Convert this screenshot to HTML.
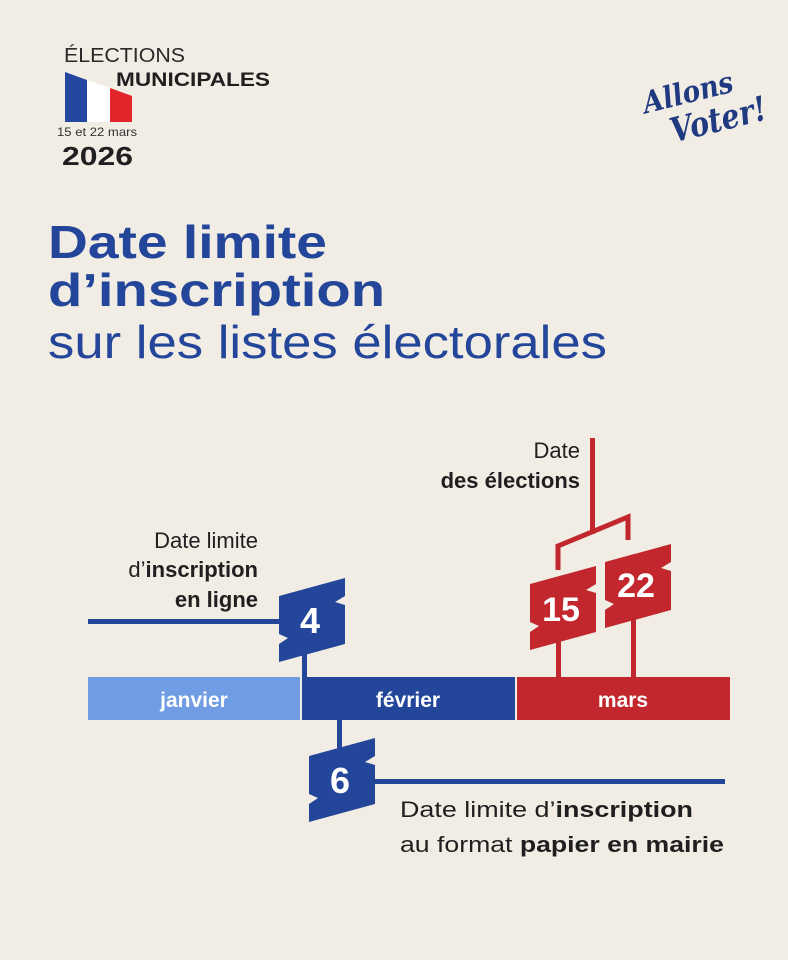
<!DOCTYPE html>
<html><head><meta charset="utf-8"><style>
html,body{margin:0;padding:0;background:#f1ece4;}
svg{display:block;font-family:"Liberation Sans","DejaVu Sans",sans-serif;}
</style></head><body>
<svg width="788" height="960" viewBox="0 0 788 960">
<rect width="788" height="960" fill="#f1ece4"/>
<defs>
<path id="bdg" d="M-31,-24 L35,-42 L35,-24 L25,-18 L35,-15 L35,24 L-31,42 L-31,24 L-22,18 L-31,14 Z"/>
</defs>
<!-- header -->
<text x="64" y="62" font-size="20" fill="#2a2a2a" textLength="121" lengthAdjust="spacingAndGlyphs">ÉLECTIONS</text>
<text x="116" y="86" font-size="19" font-weight="bold" fill="#1f1f1f" textLength="154" lengthAdjust="spacingAndGlyphs">MUNICIPALES</text>
<polygon points="65,72 87,80 87,122 65,122" fill="#2448a0"/>
<polygon points="87,80 110,88 110,122 87,122" fill="#ffffff"/>
<polygon points="110,88 132,96 132,122 110,122" fill="#e2252b"/>
<text x="57" y="136" font-size="12" fill="#333" textLength="80" lengthAdjust="spacingAndGlyphs">15 et 22 mars</text>
<text x="62" y="165" font-size="26" font-weight="bold" fill="#1f1f1f" textLength="71" lengthAdjust="spacingAndGlyphs">2026</text>
<!-- Allons Voter -->
<g transform="rotate(-14 700 100)" fill="#1f3a80" font-family="'DejaVu Serif',serif" font-style="italic" font-weight="bold">
<text x="644" y="100" font-size="30" textLength="92" lengthAdjust="spacingAndGlyphs">Allons</text>
<text x="664" y="135" font-size="34" textLength="98" lengthAdjust="spacingAndGlyphs">Voter!</text>
</g>
<!-- title -->
<text x="48" y="258" font-size="46" font-weight="bold" fill="#23469a" textLength="279" lengthAdjust="spacingAndGlyphs">Date limite</text>
<text x="48" y="306" font-size="46" font-weight="bold" fill="#23469a" textLength="337" lengthAdjust="spacingAndGlyphs">d’inscription</text>
<text x="48" y="358" font-size="46" fill="#23469a" textLength="559" lengthAdjust="spacingAndGlyphs">sur les listes électorales</text>
<!-- timeline -->
<rect x="88" y="677" width="212" height="43" fill="#6f9ce2"/>
<rect x="302" y="677" width="213" height="43" fill="#23469a"/>
<rect x="517" y="677" width="213" height="43" fill="#c1272d"/>
<text x="194" y="707" font-size="21" font-weight="bold" fill="#fff" text-anchor="middle">janvier</text>
<text x="408" y="707" font-size="21" font-weight="bold" fill="#fff" text-anchor="middle">février</text>
<text x="623" y="707" font-size="21" font-weight="bold" fill="#fff" text-anchor="middle">mars</text>
<!-- lines blue -->
<rect x="88" y="619" width="195" height="5" fill="#23469a"/>
<rect x="302" y="650" width="5" height="28" fill="#23469a"/>
<rect x="337" y="720" width="5" height="30" fill="#23469a"/>
<rect x="365" y="779" width="360" height="5" fill="#23469a"/>
<!-- lines red -->
<rect x="590" y="438" width="5" height="96" fill="#c1272d"/>
<polyline points="558,570 558,546 628,517 628,540" fill="none" stroke="#c1272d" stroke-width="5"/>
<rect x="556" y="640" width="5" height="38" fill="#c1272d"/>
<rect x="631" y="615" width="5" height="63" fill="#c1272d"/>
<!-- badges -->
<g transform="translate(310,620)"><use href="#bdg" fill="#23469a"/><text x="0" y="13" font-size="36" font-weight="bold" fill="#fff" text-anchor="middle">4</text></g>
<g transform="translate(340,780)"><use href="#bdg" fill="#23469a"/><text x="0" y="13" font-size="36" font-weight="bold" fill="#fff" text-anchor="middle">6</text></g>
<g transform="translate(561,608)"><use href="#bdg" fill="#c1272d"/><text x="0" y="13" font-size="34" font-weight="bold" fill="#fff" text-anchor="middle">15</text></g>
<g transform="translate(636,586)"><use href="#bdg" fill="#c1272d"/><text x="0" y="11" font-size="34" font-weight="bold" fill="#fff" text-anchor="middle">22</text></g>
<!-- annotations -->
<g font-size="22" fill="#1f1f1f">
<text x="258" y="548" text-anchor="end">Date limite</text>
<text x="258" y="577" text-anchor="end">d’<tspan font-weight="bold">inscription</tspan></text>
<text x="258" y="607" text-anchor="end" font-weight="bold">en ligne</text>
<text x="580" y="458" text-anchor="end">Date</text>
<text x="580" y="488" text-anchor="end" font-weight="bold">des élections</text>
<text x="400" y="817" textLength="293" lengthAdjust="spacingAndGlyphs">Date limite d’<tspan font-weight="bold">inscription</tspan></text>
<text x="400" y="852" textLength="324" lengthAdjust="spacingAndGlyphs">au format <tspan font-weight="bold">papier en mairie</tspan></text>
</g>
</svg>
</body></html>
